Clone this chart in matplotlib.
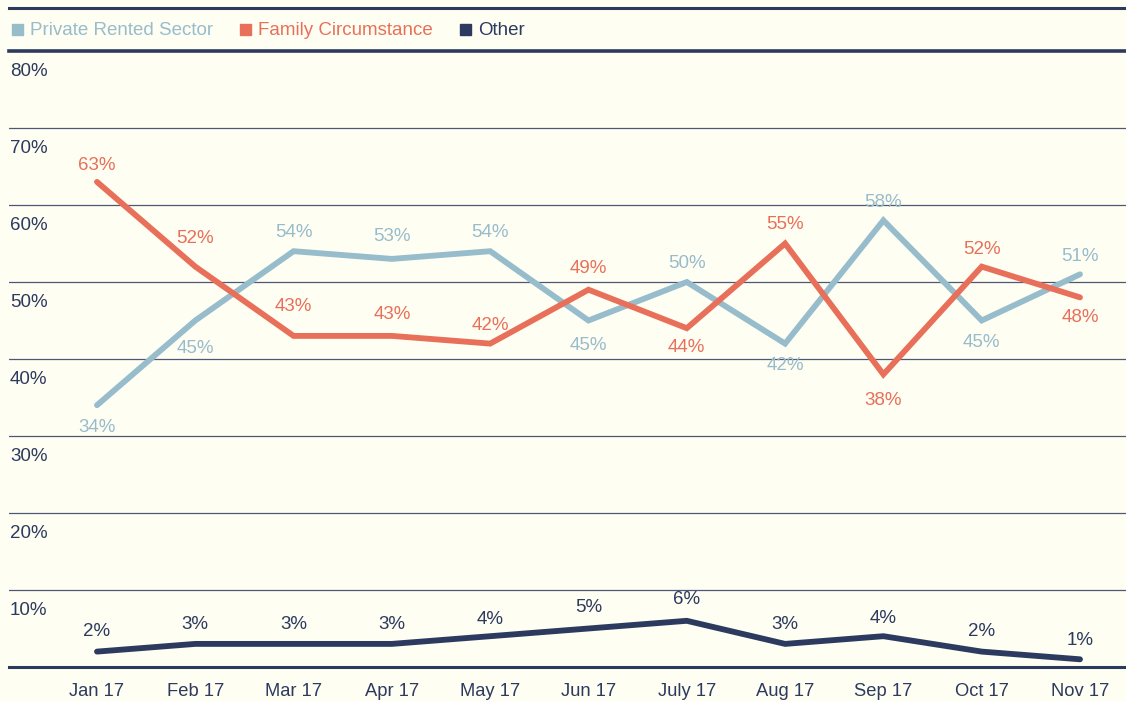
import matplotlib
matplotlib.use("Agg")
import matplotlib.pyplot as plt
from matplotlib.lines import Line2D
from matplotlib.patches import Rectangle

plt.rcParams['font.family'] = ['Liberation Sans', 'DejaVu Sans']

months = ["Jan 17", "Feb 17", "Mar 17", "Apr 17", "May 17", "Jun 17",
          "July 17", "Aug 17", "Sep 17", "Oct 17", "Nov 17"]
prs = [34, 45, 54, 53, 54, 45, 50, 42, 58, 45, 51]
family = [63, 52, 43, 43, 42, 49, 44, 55, 38, 52, 48]
other = [2, 3, 3, 3, 4, 5, 6, 3, 4, 2, 1]
# label offsets from the point in pixels (positive = above)
prs_off = [-22, -28, 19, 22, 19, -25, 19, -22, 18, -22, 18]
fam_off = [16, 28, 29, 21, 18, 21, -19, 19, -26, 17, -20]
oth_off = [20, 19, 19, 19, 17, 21, 21, 19, 18, 20, 19]
yticks = [0, 10, 20, 30, 40, 50, 60, 70, 80]

BG = "#fffef2"
C_PRS = "#97bccc"
C_FAM = "#e8705a"
C_OTH = "#2c3a5f"
C_GRID = "#4d5878"

W, H = 1126, 701
fig = plt.figure(figsize=(W / 100, H / 100), dpi=100, facecolor=BG)
ax = fig.add_axes([9 / W, (H - 667) / H, (W - 9) / W, (667 - 51) / H])
ax.set_facecolor(BG)

x = list(range(len(months)))
ax.set_xlim(-0.895, 10.468)
ax.set_ylim(0, 80)

for v in yticks:
    if v in (0, 80):
        continue
    ax.axhline(v, color=C_GRID, lw=0.9, zorder=1)

for s in ["left", "right"]:
    ax.spines[s].set_visible(False)
ax.spines["bottom"].set_color(C_OTH)
ax.spines["bottom"].set_linewidth(2.2)
ax.spines["top"].set_color(C_OTH)
ax.spines["top"].set_linewidth(2.6)

ax.plot(x, prs, color=C_PRS, lw=4.2, solid_capstyle="round", solid_joinstyle="miter", zorder=3)
ax.plot(x, family, color=C_FAM, lw=4.2, solid_capstyle="round", solid_joinstyle="miter", zorder=4)
ax.plot(x, other, color=C_OTH, lw=4.2, solid_capstyle="round", solid_joinstyle="miter", zorder=5)

FS = 13.5

def labels(vals, offs, color):
    for xi, v, o in zip(x, vals, offs):
        ax.annotate(f"{v}%", (xi, v), xytext=(0, o * 0.72), textcoords="offset points",
                    ha="center", va="center",
                    color=color, fontsize=FS, zorder=6)

labels(prs, prs_off, C_PRS)
labels(family, fam_off, C_FAM)
labels(other, oth_off, C_OTH)

ax.set_yticks([])
ax.set_xticks(x)
ax.set_xticklabels(months, fontsize=13.2, color=C_OTH)
ax.tick_params(axis="x", length=0, pad=11.5)

for v in yticks[1:]:
    ax.annotate(f"{v}%", (0.001, v), xycoords=("axes fraction", "data"),
                xytext=(0, -14.5), textcoords="offset points",
                ha="left", va="center", fontsize=FS, color=C_OTH)

# top border line
fig.add_artist(Line2D([9 / W, 1], [1 - 8 / H, 1 - 8 / H], color=C_OTH, lw=2.2,
                      transform=fig.transFigure))

# legend
legend_items = [("Private Rented Sector", C_PRS), ("Family Circumstance", C_FAM), ("Other", C_OTH)]
lx = 12
ly = 30.5
for name, col in legend_items:
    fig.add_artist(Rectangle((lx / W, (H - 29 - 5.5) / H), 11 / W, 11 / H,
                             color=col, transform=fig.transFigure))
    t = fig.text((lx + 18) / W, (H - ly) / H, name, color=col, fontsize=FS,
                 ha="left", va="center")
    fig.canvas.draw()
    bb = t.get_window_extent()
    lx = bb.x1 + 27

fig.savefig("out.png", dpi=100, facecolor=BG)
